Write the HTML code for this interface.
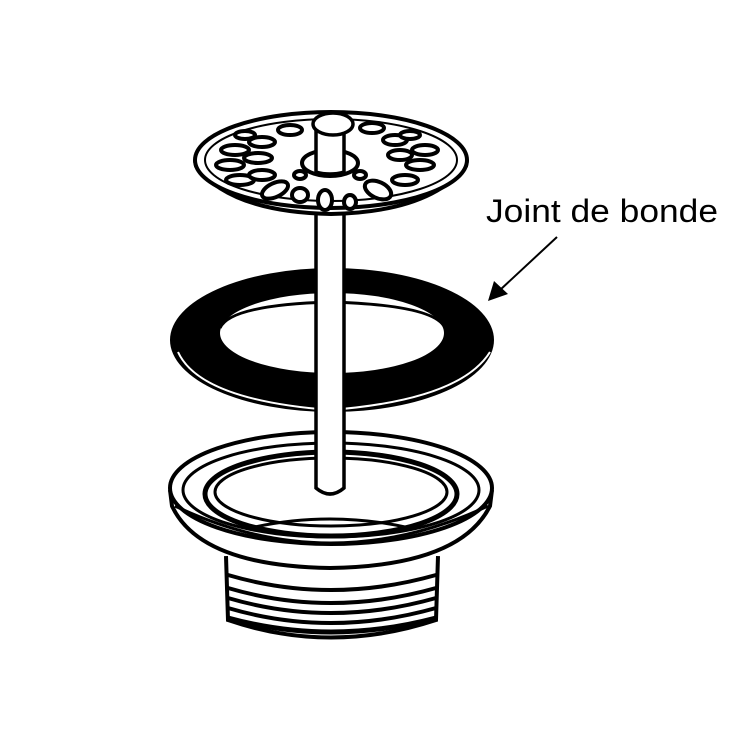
<!DOCTYPE html>
<html><head><style>body{margin:0;background:#fff}svg{display:block}</style></head><body>
<svg width="750" height="750" viewBox="0 0 750 750" xmlns="http://www.w3.org/2000/svg" fill="none" stroke="#000" stroke-width="3">
<rect width="750" height="750" fill="#fff" stroke="none"/>
<!-- threaded body -->
<path d="M226 556 L228 620 Q330 655 436 620 L438 556" fill="#fff" stroke-width="4"/>
<path d="M228 575 Q330 605 436 575 M228 588 Q330 618 436 588 M228 598 Q330 628 436 598 M228 608 Q330 638 436 608" stroke-width="4"/>
<path d="M228 618 Q330 646 436 618" stroke-width="5"/>
<!-- basin -->
<path d="M170 490 L172 506 Q200 566 330 568 Q460 566 490 506 L492 490" fill="#fff" stroke-width="4"/>
<ellipse cx="331" cy="488" rx="161" ry="56" fill="#fff" stroke-width="4"/>
<ellipse cx="331" cy="490" rx="148" ry="47" stroke-width="3"/>
<ellipse cx="331" cy="494" rx="126" ry="42" stroke-width="5"/>
<ellipse cx="331" cy="492" rx="116" ry="34" stroke-width="3"/>
<path d="M250 528 Q330 510 410 528" stroke-width="3"/>
<path d="M175 506 Q330 580 488 506" stroke-width="3"/>
<!-- gasket -->
<path fill-rule="evenodd" fill="#000" stroke="none" d="M170 340 a162 72 0 1 0 324 0 a162 72 0 1 0 -324 0 Z M220 333 a112 40 0 1 0 224 0 a112 40 0 1 0 -224 0 Z"/>
<path d="M220 328 Q230 305 330 302 Q435 305 445 328" stroke-width="3"/>
<path d="M178 352 Q200 400 330 410 Q460 400 490 352" stroke="#fff" stroke-width="2"/>
<!-- stem -->
<path d="M316 130 L316 488 Q330 500 344 488 L344 130" fill="#fff" stroke-width="3.5"/>
<!-- strainer -->
<path d="M195 160 L196 166 Q230 212 331 214 Q430 212 466 166 L467 160" fill="#fff" stroke-width="4"/>
<ellipse cx="331" cy="160" rx="136" ry="48" fill="#fff" stroke-width="4"/>
<ellipse cx="331" cy="160" rx="126" ry="41" stroke-width="2"/>
<g fill="#fff" stroke-width="4">
<ellipse cx="330" cy="163" rx="28" ry="13"/>
<ellipse cx="235" cy="150" rx="14" ry="5"/><ellipse cx="230" cy="165" rx="14" ry="5"/><ellipse cx="240" cy="180" rx="14" ry="5"/>
<ellipse cx="262" cy="142" rx="13" ry="5"/><ellipse cx="258" cy="158" rx="14" ry="5"/><ellipse cx="262" cy="175" rx="13" ry="5"/>
<ellipse cx="275" cy="190" rx="14" ry="7" transform="rotate(-25 275 190)"/><ellipse cx="300" cy="195" rx="8" ry="7"/>
<ellipse cx="325" cy="200" rx="7" ry="10"/><ellipse cx="350" cy="202" rx="6" ry="7"/><ellipse cx="378" cy="190" rx="14" ry="8" transform="rotate(25 378 190)"/>
<ellipse cx="405" cy="180" rx="13" ry="5"/><ellipse cx="420" cy="165" rx="14" ry="5"/><ellipse cx="425" cy="150" rx="13" ry="5"/>
<ellipse cx="400" cy="155" rx="12" ry="5"/><ellipse cx="395" cy="140" rx="12" ry="5"/><ellipse cx="410" cy="135" rx="10" ry="4"/>
<ellipse cx="290" cy="130" rx="12" ry="5"/><ellipse cx="372" cy="128" rx="12" ry="5"/><ellipse cx="245" cy="135" rx="10" ry="4"/>
<ellipse cx="300" cy="175" rx="6" ry="4"/><ellipse cx="360" cy="175" rx="6" ry="4"/>
</g>
<path d="M316 130 L316 172 Q330 176 344 172 L344 130" fill="#fff" stroke-width="3.5"/>
<ellipse cx="333" cy="124" rx="20" ry="11" fill="#fff" stroke-width="3.5"/>
<!-- label -->
<text x="486" y="222" font-family="Liberation Sans, sans-serif" font-size="32" textLength="232" lengthAdjust="spacingAndGlyphs" fill="#000" stroke="none">Joint de bonde</text>
<line x1="557" y1="237" x2="500" y2="290" stroke-width="2"/>
<polygon points="488,301 494,281 508,294" fill="#000" stroke="none"/>
</svg>
</body></html>
